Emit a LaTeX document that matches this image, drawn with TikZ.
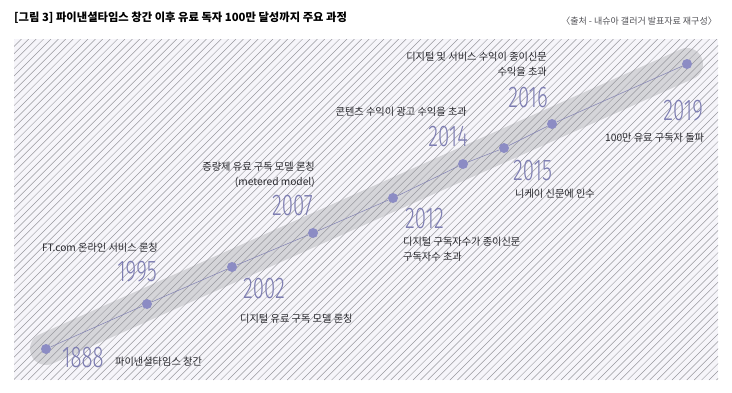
\documentclass[tikz,border=0pt]{standalone}
\usepackage{fontspec}
\usepackage{xcolor}
\usetikzlibrary{positioning}
\pgfdeclarelayer{background}
\pgfsetlayers{background,main}
\newfontfamily\krfont{Noto Sans CJK KR}
\IfFontExistsTF{Fira Sans Light}
  {\newfontfamily\yearfont[FakeStretch=0.68]{Fira Sans Light}}
  {\newfontfamily\yearfont[FakeStretch=0.66]{Liberation Sans}}
\definecolor{panelbg}{RGB}{246,245,250}
\definecolor{hatchgray}{RGB}{152,152,158}
\definecolor{bandgray}{RGB}{213,213,217}
\definecolor{dotblue}{RGB}{140,140,196}
\definecolor{linkblue}{RGB}{128,128,178}
\definecolor{yearblue}{RGB}{125,125,178}
\definecolor{notegray}{RGB}{40,40,45}
\definecolor{sourcegray}{RGB}{80,80,85}

\begin{document}
\begin{tikzpicture}[
        x=1pt,y=-1pt,
        yeardot/.style={circle,fill=dotblue,inner sep=0pt,minimum size=10pt},
        yearnum/.style={inner sep=0pt,text=yearblue,font=\yearfont\fontsize{30}{30}\selectfont},
        note/.style={inner sep=0pt,text=notegray,font=\krfont\fontsize{10.2}{15}\selectfont},
        link/.style={draw=linkblue,line width=0.5pt},
        band/.style={draw=bandgray,line width=32pt,line cap=round},
        hatch/.style={draw=hatchgray,line width=0.5pt}
      ]
        \useasboundingbox (0,0) rectangle (732,392);
        % title and source
        \node[anchor=base west,inner sep=0pt,text=black,
          font=\krfont\bfseries\fontsize{11.3}{13}\selectfont] (title) at (14,21)
          {[그림 3] 파이낸셜타임스 창간 이후 유료 독자 100만 달성까지 주요 과정};
        \node[anchor=base east,inner sep=0pt,text=sourcegray,
          font=\krfont\fontsize{9}{11}\selectfont] (source) at (717,24.5)
          {〈출처 - 내슈아 갤러거 발표자료 재구성〉};
        % milestones
        \node[yeardot] (d1888) at (46,349) {};
        \node[yeardot] (d1995) at (147,304) {};
        \node[yeardot] (d2002) at (232,267) {};
        \node[yeardot] (d2007) at (313,233) {};
        \node[yeardot] (d2012) at (393,198) {};
        \node[yeardot] (d2014) at (463,164) {};
        \node[yeardot] (d2015) at (504,148) {};
        \node[yeardot] (d2016) at (552,124) {};
        \node[yeardot] (d2019) at (687,64) {};
        % hatched panel and band
        \begin{pgfonlayer}{background}
          \fill[panelbg] (14,39) rectangle (718,380);
          \draw[band] (d1888.center) -- (d2019.center);
          \begin{scope}
            \clip (14,39) rectangle (718,380);
            \foreach \i in {0,...,142}
              \draw[hatch] (-327+\i*7.4,380) -- ++(341,-341);
          \end{scope}
        \end{pgfonlayer}
        \draw[link] (d1888) -- (d1995) -- (d2002) -- (d2007) -- (d2012)
          -- (d2014) -- (d2015) -- (d2016) -- (d2019);
        % years
        \node[yearnum,anchor=base west] (y1888) at (62,367) {1888};
        \node[yearnum,anchor=base east] (y1995) at (157,281) {1995};
        \node[yearnum,anchor=base west] (y2002) at (243,298) {2002};
        \node[yearnum,anchor=base east] (y2007) at (313,215) {2007};
        \node[yearnum,anchor=base west] (y2012) at (405,228) {2012};
        \node[yearnum,anchor=base east] (y2014) at (468,146) {2014};
        \node[yearnum,anchor=base west] (y2015) at (513,180) {2015};
        \node[yearnum,anchor=base east] (y2016) at (548,107) {2016};
        \node[yearnum,anchor=base east] (y2019) at (703,120) {2019};
        % notes
        \node[note,anchor=base west] (n1888) at (115,365) {파이낸셜타임스 창간};
        \node[note,anchor=base east] (n1995) at (158,251) {FT.com 온라인 서비스 론칭};
        \node[note,anchor=base west] (n2002) at (240,322) {디지털 유료 구독 모델 론칭};
        \node[note,anchor=north east,align=right] (n2007) at (315,161.5)
          {증량제 유료 구독 모델 론칭\\(metered model)};
        \node[note,anchor=north west,align=left] (n2012) at (403,236.5)
          {디지털 구독자수가 종이신문\\구독자수 초과};
        \node[note,anchor=base east] (n2014) at (467,115.5) {콘텐츠 수익이 광고 수익을 초과};
        \node[note,anchor=base west] (n2015) at (515,197.5) {니케이 신문에 인수};
        \node[note,anchor=north east,align=right] (n2016) at (547,51.5)
          {디지털 및 서비스 수익이 종이신문\\수익을 초과};
        \node[note,anchor=base west] (n2019) at (605,141.5) {100만 유료 구독자 돌파};
      \end{tikzpicture}
\end{document}
